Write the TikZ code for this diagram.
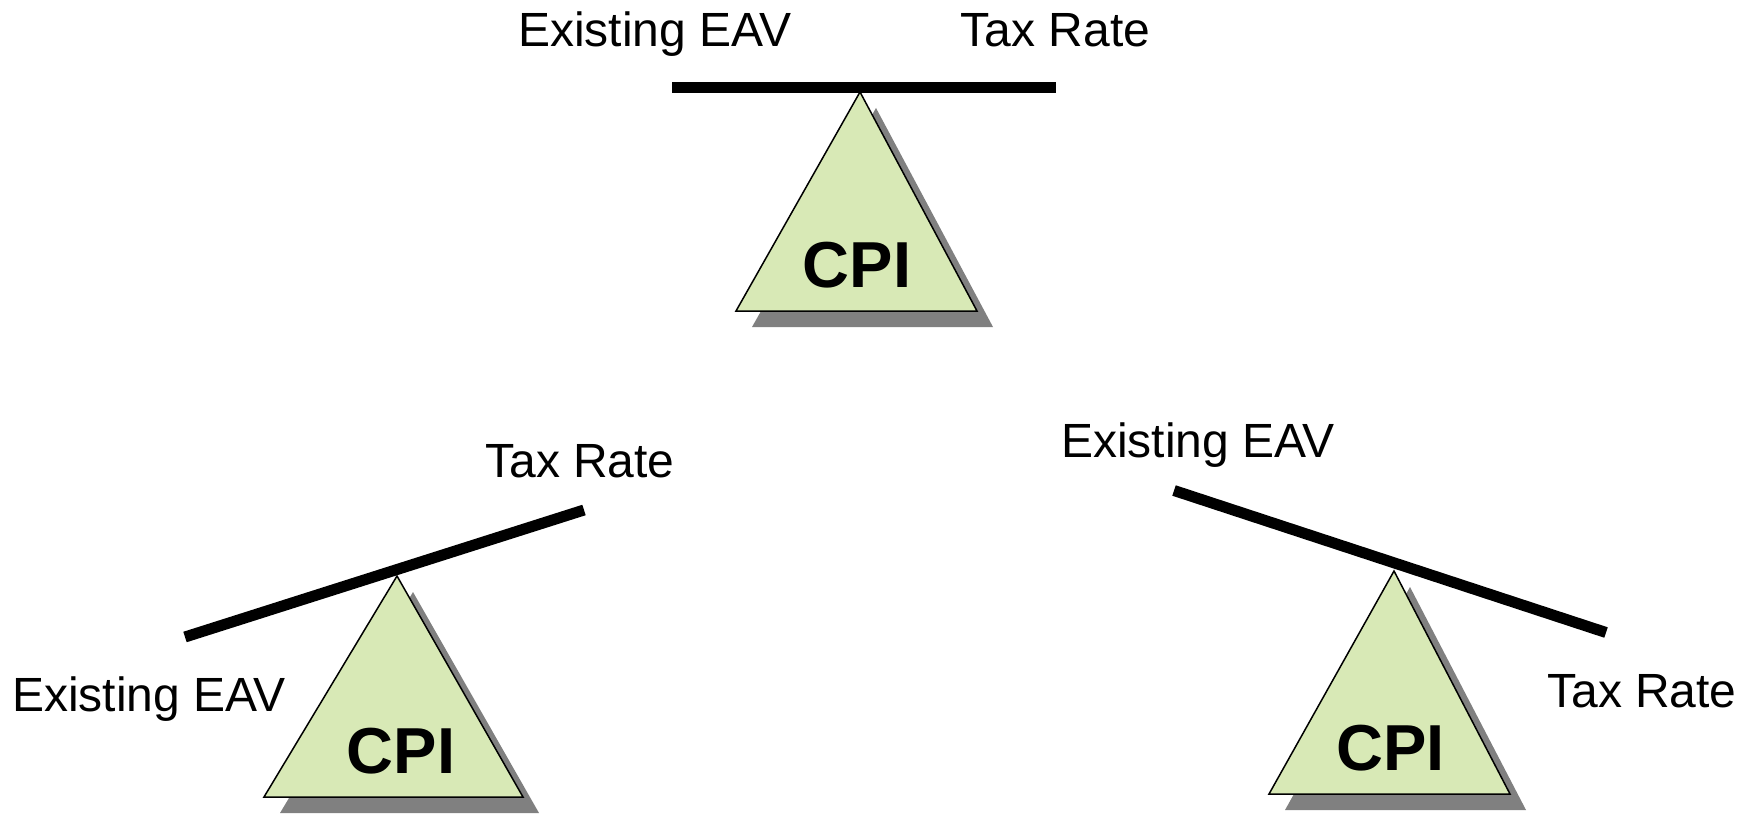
\documentclass[tikz,border=0pt]{standalone}
\usepackage{fontspec}
\setmainfont{Liberation Sans}
\definecolor{cpigreen}{RGB}{216,233,182}
\definecolor{shadowgray}{RGB}{128,128,128}
\tikzset{
  lbl/.style={font=\fontsize{24}{28}\selectfont, anchor=base, inner sep=0pt},
  cpi/.style={font=\fontsize{32.5}{38}\bfseries\selectfont, anchor=base, inner sep=0pt},
  beam/.style={line width=5.5pt, line cap=butt},
  fulcrum/.style={fill=cpigreen, draw=black, line width=0.75pt, line join=miter},
  shade/.style={fill=shadowgray}
}
\begin{document}
\begin{tikzpicture}[x=0.5pt,y=-0.5pt]
\useasboundingbox (0,0) rectangle (1754,813);
% ---------- top (balanced) ----------
\coordinate (tA) at (860,92);
\coordinate (tL) at (736,311);
\coordinate (tR) at (977,311);
\fill[shade] ([shift={(16,16)}]tA) -- ([shift={(16,16)}]tL) -- ([shift={(16,16)}]tR) -- cycle;
\draw[fulcrum] (tA) -- (tL) -- (tR) -- cycle;
\coordinate (tb1) at (672,87.5);
\coordinate (tb2) at (1056,87.5);
\draw[beam] (tb1) -- (tb2);
\node[cpi] (tcpi) at (857,287) {CPI};
\node[lbl] (teav) at (655,47) {Existing EAV};
\node[lbl] (ttax) at (1055.5,47) {Tax Rate};
% ---------- bottom left ----------
\coordinate (lA) at (397,576);
\coordinate (lL) at (264,797);
\coordinate (lR) at (523,797);
\fill[shade] ([shift={(16,16)}]lA) -- ([shift={(16,16)}]lL) -- ([shift={(16,16)}]lR) -- cycle;
\draw[fulcrum] (lA) -- (lL) -- (lR) -- cycle;
\coordinate (lb1) at (185,637);
\coordinate (lb2) at (584,510);
\draw[beam] (lb1) -- (lb2);
\node[cpi] (lcpi) at (401,773) {CPI};
\node[lbl] (ltax) at (580,477.5) {Tax Rate};
\node[lbl] (leav) at (149,711) {Existing EAV};
% ---------- bottom right ----------
\coordinate (rA) at (1394,571);
\coordinate (rL) at (1269,794);
\coordinate (rR) at (1510,794);
\fill[shade] ([shift={(16,16)}]rA) -- ([shift={(16,16)}]rL) -- ([shift={(16,16)}]rR) -- cycle;
\draw[fulcrum] (rA) -- (rL) -- (rR) -- cycle;
\coordinate (rb1) at (1174,490.5);
\coordinate (rb2) at (1606,632.5);
\draw[beam] (rb1) -- (rb2);
\node[cpi] (rcpi) at (1390.5,770) {CPI};
\node[lbl] (reav) at (1198,457.5) {Existing EAV};
\node[lbl] (rtax) at (1642,707) {Tax Rate};
\end{tikzpicture}
\end{document}
